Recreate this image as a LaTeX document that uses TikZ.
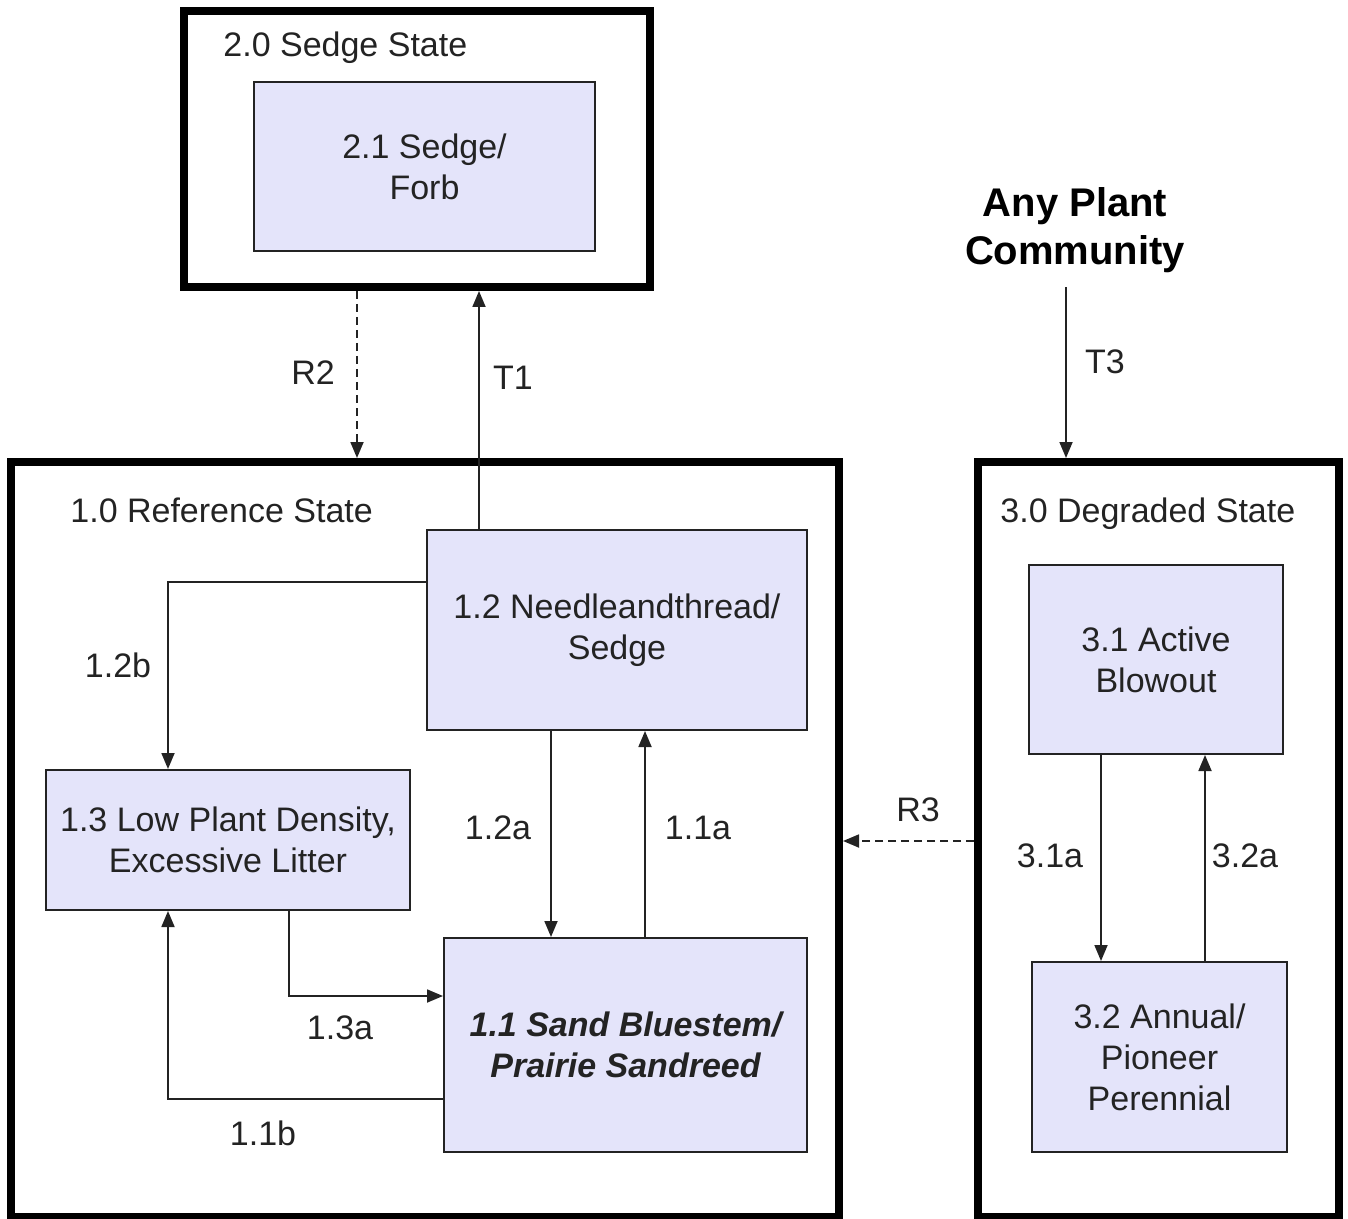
\documentclass[tikz,border=0pt]{standalone}
\usepackage{fontspec}
\setmainfont{Liberation Sans}
\usetikzlibrary{arrows.meta}
\definecolor{boxfill}{RGB}{228,228,250}
\definecolor{ink}{RGB}{35,35,35}
\begin{document}
\begin{tikzpicture}[x=0.5pt,y=-0.5pt,
  font=\fontsize{17}{20.5}\selectfont,
  statebox/.style={draw=black,line width=4pt,inner sep=0pt},
  phasebox/.style={draw=ink,fill=boxfill,line width=1pt,align=center,inner sep=0pt,text=ink},
  lbl/.style={text=ink,inner sep=0pt},
  arr/.style={draw=ink,line width=0.9pt,-{Triangle[length=8pt,width=6.5pt]}},
  dasharr/.style={arr,dash pattern=on 4pt off 2.5pt}
]
\useasboundingbox (0,0) rectangle (1348,1219);

% state boxes
\node[statebox,minimum width=233pt,minimum height=138pt] (s2) at (417,149) {};
\node[statebox,minimum width=414pt,minimum height=377.5pt] (s1) at (425,839.5) {};
\node[statebox,minimum width=180.5pt,minimum height=377.5pt] (s3) at (1158.5,839.5) {};

% state titles
\node[lbl,anchor=base west] (t2) at (223,57) {2.0 Sedge State};
\node[lbl,anchor=base west] (t1) at (70,522) {1.0 Reference State};
\node[lbl,anchor=base west] (t3) at (1000,522) {3.0 Degraded State};

% phase boxes
\node[phasebox,minimum width=170.5pt,minimum height=84.5pt] (b21) at (424.5,166.5) {2.1 Sedge/\\Forb};
\node[phasebox,minimum width=190pt,minimum height=100pt] (b12) at (617,630) {1.2 Needleandthread/\\Sedge};
\node[phasebox,minimum width=182pt,minimum height=70pt] (b13) at (228,840) {1.3 Low Plant Density,\\Excessive Litter};
\node[phasebox,minimum width=181.5pt,minimum height=107pt,font=\fontsize{17}{20.5}\selectfont\bfseries\itshape] (b11) at (625.5,1045) {1.1 Sand Bluestem/\\Prairie Sandreed};
\node[phasebox,minimum width=127pt,minimum height=94.5pt] (b31) at (1156,659.5) {3.1 Active\\Blowout};
\node[phasebox,minimum width=127.5pt,minimum height=95pt] (b32) at (1159.5,1057) {3.2 Annual/\\Pioneer\\Perennial};

% any plant community
\node[align=center,inner xsep=0pt,inner ysep=7pt,font=\fontsize{20}{24}\selectfont\bfseries] (apc) at (1075,230) {Any Plant\\Community};

% helper coordinates
\coordinate (xR2) at (357,0);
\coordinate (xT1) at (479,0);
\coordinate (xT3) at (1066,0);
\coordinate (x12b) at (168,0);
\coordinate (x12a) at (551,0);
\coordinate (x11a) at (645,0);
\coordinate (x13a) at (289,0);
\coordinate (x31a) at (1101,0);
\coordinate (x32a) at (1205,0);
\coordinate (y12b) at (0,582);
\coordinate (y13a) at (0,996);
\coordinate (y11b) at (0,1099);
\coordinate (yR3) at (0,841);

% connectors
\draw[arr] (apc.south -| xT3) -- (s3.north -| xT3);
\draw[dasharr] (s2.south -| xR2) -- (s1.north -| xR2);
\draw[arr] (b12.north -| xT1) -- (s2.south -| xT1);
\draw[arr] (b12.west |- y12b) -| (b13.north -| x12b);
\draw[arr] (b12.south -| x12a) -- (b11.north -| x12a);
\draw[arr] (b11.north -| x11a) -- (b12.south -| x11a);
\draw[arr] (b13.south -| x13a) |- (b11.west |- y13a);
\draw[arr] (b11.west |- y11b) -| (b13.south -| x12b);
\draw[dasharr] (s3.west |- yR3) -- (s1.east |- yR3);
\draw[arr] (b31.south -| x31a) -- (b32.north -| x31a);
\draw[arr] (b32.north -| x32a) -- (b31.south -| x32a);

% connector labels
\node[lbl] (lR2) at (313,373) {R2};
\node[lbl] (lT1) at (513,378) {T1};
\node[lbl] (lT3) at (1105,362) {T3};
\node[lbl] (l12b) at (118,665) {1.2b};
\node[lbl] (l12a) at (498,828) {1.2a};
\node[lbl] (l11a) at (698,828) {1.1a};
\node[lbl] (l13a) at (340,1028) {1.3a};
\node[lbl] (l11b) at (263,1133) {1.1b};
\node[lbl] (lR3) at (918,810) {R3};
\node[lbl] (l31a) at (1050,856) {3.1a};
\node[lbl] (l32a) at (1245,856) {3.2a};
\end{tikzpicture}
\end{document}
